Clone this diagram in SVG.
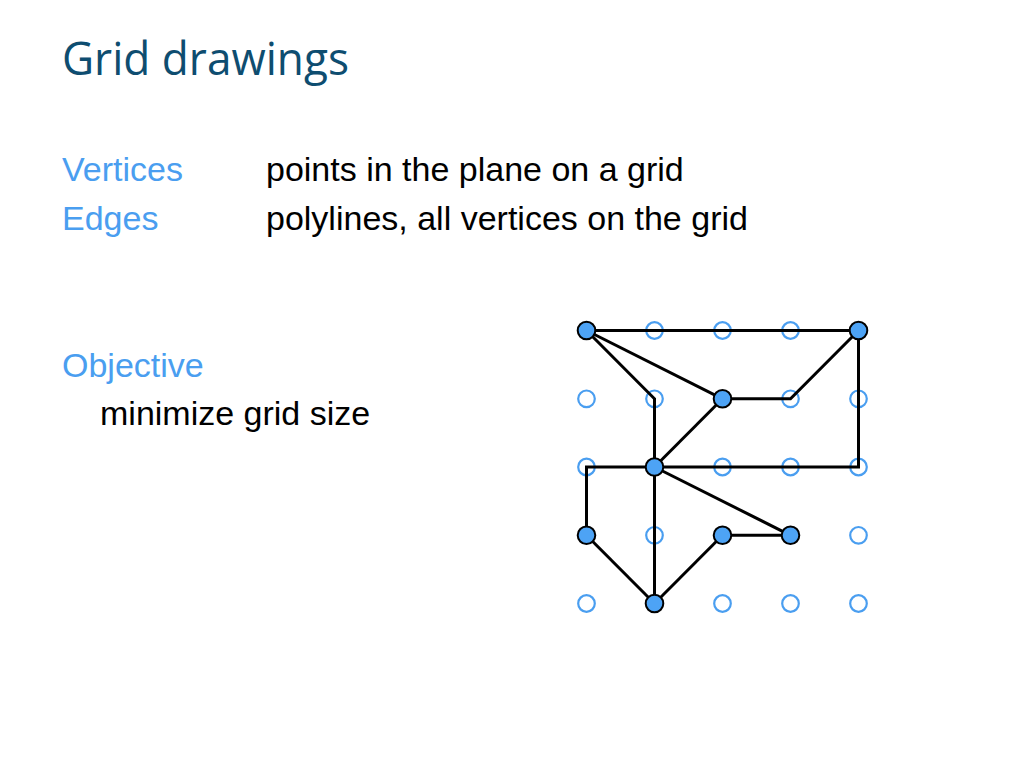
<svg xmlns="http://www.w3.org/2000/svg" width="1024" height="768" viewBox="0 0 1024 768">
<style>
.title{font-family:"Open Sans","Noto Sans",sans-serif;font-size:46px;fill:#0e4d70}
.lbl{font-family:"Liberation Sans",Arial,sans-serif;font-size:34px;fill:#4a9ef0}
.txt{font-family:"Liberation Sans",Arial,sans-serif;font-size:34px;fill:#000}
.grid{fill:none;stroke:#4a9ef0;stroke-width:2.2}
.node{fill:#4da3f5;stroke:#000;stroke-width:2}
.edge{fill:none;stroke:#000;stroke-width:3;stroke-linejoin:miter}
</style>
<rect width="1024" height="768" fill="#fff"/>
<text class="title" x="62" y="75" textLength="287" lengthAdjust="spacingAndGlyphs">Grid drawings</text>
<text class="lbl" x="62" y="181">Vertices</text>
<text class="txt" x="266" y="181">points in the plane on a grid</text>
<text class="lbl" x="62" y="230">Edges</text>
<text class="txt" x="266" y="230">polylines, all vertices on the grid</text>
<text class="lbl" x="62" y="377">Objective</text>
<text class="txt" x="100" y="425">minimize grid size</text>
<g id="gridpoints">
<circle class="grid" cx="654.5" cy="330.5" r="8.3"/>
<circle class="grid" cx="722.5" cy="330.5" r="8.3"/>
<circle class="grid" cx="790.5" cy="330.5" r="8.3"/>
<circle class="grid" cx="586.5" cy="398.8" r="8.3"/>
<circle class="grid" cx="654.5" cy="398.8" r="8.3"/>
<circle class="grid" cx="790.5" cy="398.8" r="8.3"/>
<circle class="grid" cx="858.5" cy="398.8" r="8.3"/>
<circle class="grid" cx="586.5" cy="467" r="8.3"/>
<circle class="grid" cx="722.5" cy="467" r="8.3"/>
<circle class="grid" cx="790.5" cy="467" r="8.3"/>
<circle class="grid" cx="858.5" cy="467" r="8.3"/>
<circle class="grid" cx="654.5" cy="535.3" r="8.3"/>
<circle class="grid" cx="858.5" cy="535.3" r="8.3"/>
<circle class="grid" cx="586.5" cy="603.5" r="8.3"/>
<circle class="grid" cx="722.5" cy="603.5" r="8.3"/>
<circle class="grid" cx="790.5" cy="603.5" r="8.3"/>
<circle class="grid" cx="858.5" cy="603.5" r="8.3"/>
</g>
<g id="edges">
<polyline class="edge" points="586.5,330.5 858.5,330.5"/>
<polyline class="edge" points="586.5,330.5 654.5,398.8 654.5,467"/>
<polyline class="edge" points="586.5,330.5 722.5,398.8"/>
<polyline class="edge" points="722.5,398.8 790.5,398.8 858.5,330.5"/>
<polyline class="edge" points="722.5,398.8 654.5,467"/>
<polyline class="edge" points="858.5,330.5 858.5,467 654.5,467"/>
<polyline class="edge" points="654.5,467 586.5,467 586.5,535.3"/>
<polyline class="edge" points="654.5,467 790.5,535.3"/>
<polyline class="edge" points="654.5,467 654.5,603.5"/>
<polyline class="edge" points="586.5,535.3 654.5,603.5"/>
<polyline class="edge" points="654.5,603.5 722.5,535.3"/>
<polyline class="edge" points="722.5,535.3 790.5,535.3"/>
</g>
<g id="v1"><circle class="node" cx="586.5" cy="330.5" r="8.8"/></g>
<g id="v2"><circle class="node" cx="858.5" cy="330.5" r="8.8"/></g>
<g id="v3"><circle class="node" cx="722.5" cy="398.8" r="8.8"/></g>
<g id="v4"><circle class="node" cx="654.5" cy="467" r="8.8"/></g>
<g id="v5"><circle class="node" cx="586.5" cy="535.3" r="8.8"/></g>
<g id="v6"><circle class="node" cx="722.5" cy="535.3" r="8.8"/></g>
<g id="v7"><circle class="node" cx="790.5" cy="535.3" r="8.8"/></g>
<g id="v8"><circle class="node" cx="654.5" cy="603.5" r="8.8"/></g>
</svg>
